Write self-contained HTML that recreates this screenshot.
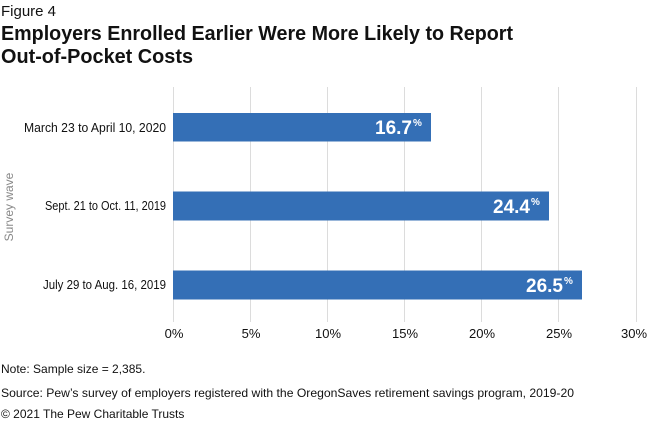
<!DOCTYPE html>
<html><head><meta charset="utf-8"><style>
body{margin:0;background:#fff;}
svg{display:block;font-family:"Liberation Sans",sans-serif;}
</style></head><body>
<svg width="650" height="423" viewBox="0 0 650 423" xmlns="http://www.w3.org/2000/svg">
<text x="1" y="16" font-size="15" fill="#111">Figure 4</text>
<text x="1" y="40" font-size="20.5" font-weight="bold" fill="#111" textLength="512" lengthAdjust="spacingAndGlyphs">Employers Enrolled Earlier Were More Likely to Report</text>
<text x="1" y="63" font-size="20.5" font-weight="bold" fill="#111" textLength="192" lengthAdjust="spacingAndGlyphs">Out-of-Pocket Costs</text>
<g stroke="#dcdcdc" stroke-width="1">
<line x1="173.5" y1="87" x2="173.5" y2="322"/>
<line x1="250.5" y1="87" x2="250.5" y2="322"/>
<line x1="327.5" y1="87" x2="327.5" y2="322"/>
<line x1="404.5" y1="87" x2="404.5" y2="322"/>
<line x1="481.5" y1="87" x2="481.5" y2="322"/>
<line x1="558.5" y1="87" x2="558.5" y2="322"/>
<line x1="636.5" y1="87" x2="636.5" y2="322"/>
</g>
<g fill="#346fb6">
<rect x="173" y="113" width="258" height="28.5"/>
<rect x="173" y="191.5" width="376" height="29"/>
<rect x="173" y="270.5" width="409" height="29"/>
</g>
<g fill="#fff" font-weight="bold" font-size="19" text-anchor="end">
<text x="412" y="134">16.7</text><text x="413" y="126" font-size="10" text-anchor="start">%</text>
<text x="530" y="213">24.4</text><text x="531" y="205" font-size="10" text-anchor="start">%</text>
<text x="563" y="292">26.5</text><text x="564" y="284" font-size="10" text-anchor="start">%</text>
</g>
<g font-size="13" fill="#111">
<text x="24" y="132" textLength="142" lengthAdjust="spacingAndGlyphs">March 23 to April 10, 2020</text>
<text x="45" y="210" textLength="121" lengthAdjust="spacingAndGlyphs">Sept. 21 to Oct. 11, 2019</text>
<text x="43" y="289" textLength="123" lengthAdjust="spacingAndGlyphs">July 29 to Aug. 16, 2019</text>
</g>
<text transform="translate(13,207) rotate(-90)" font-size="12" fill="#888" text-anchor="middle">Survey wave</text>
<g font-size="13" fill="#111" text-anchor="middle">
<text x="174" y="338">0%</text><text x="251" y="338">5%</text><text x="328" y="338">10%</text>
<text x="405" y="338">15%</text><text x="482" y="338">20%</text><text x="559" y="338">25%</text><text x="634" y="338">30%</text>
</g>
<text x="1" y="373" font-size="12" fill="#111">Note: Sample size = 2,385.</text>
<text x="1" y="397" font-size="12" fill="#111" textLength="573" lengthAdjust="spacingAndGlyphs">Source: Pew’s survey of employers registered with the OregonSaves retirement savings program, 2019-20</text>
<text x="1" y="418" font-size="12" fill="#111">© 2021 The Pew Charitable Trusts</text>
</svg>
</body></html>
